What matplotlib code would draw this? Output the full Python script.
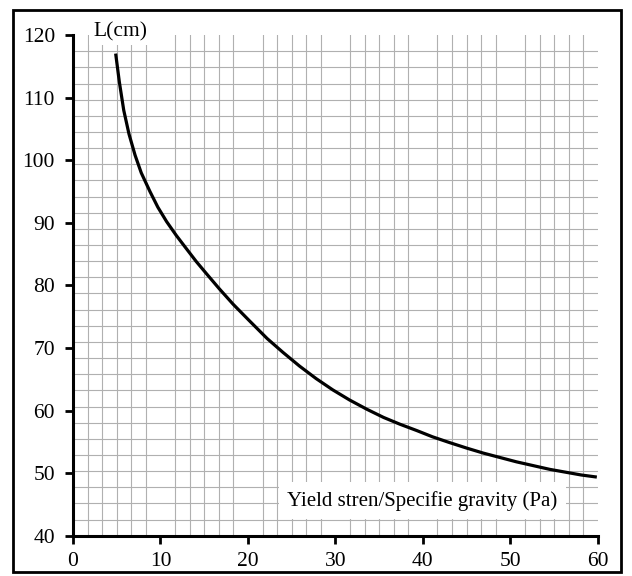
import numpy as np
import matplotlib.pyplot as plt
from matplotlib.patches import Rectangle

#%% values
stress = [4.9, 5.3, 5.8, 6.4, 7.1, 7.8, 8.8, 9.7, 10.7, 11.8, 13.0, 14.1, 15.3,
          16.7, 18.3, 20.2, 22.2, 24.0, 25.9, 27.8, 29.7, 31.6, 33.6, 35.5,
          37.4, 39.3, 41.1, 43.0, 45.0, 46.9, 48.8, 50.7, 52.6, 54.5, 56.5,
          58.1, 59.7]
length = [116.8, 112.5, 108.0, 104.2, 100.8, 98.0, 95.0, 92.5, 90.2, 88.0, 85.8, 83.8, 81.8,
          79.5, 77.0, 74.3, 71.5, 69.3, 67.1, 65.1, 63.3, 61.7, 60.2, 58.9,
          57.8, 56.8, 55.8, 54.9, 54.0, 53.2, 52.5, 51.8, 51.2, 50.6, 50.1,
          49.7, 49.4]

xticks = [0, 10, 20, 30, 40, 50, 60]
yticks = [40, 50, 60, 70, 80, 90, 100, 110, 120]
xlabel = 'Yield stren/Specifie gravity (Pa)'
ylabel = 'L(cm)'

#%% figure
plt.rcParams['font.family'] = 'Liberation Serif'
fig = plt.figure(figsize=(6.32, 5.76), dpi=100)
ax = fig.add_axes([0.1155, 0.070, 0.8305, 0.869])

# graph paper
ax.set_xticks(np.linspace(0, 60, 37), minor=True)
ax.set_yticks(np.linspace(40, 120, 32), minor=True)
ax.grid(which='minor', color='#b0b0b0', lw=0.8)
ax.set_axisbelow(True)

ax.plot(stress, length, color='black', lw=2.3, solid_joinstyle='round')

ax.set_xlim(0, 60)
ax.set_ylim(40, 120)
ax.set_xticks(xticks)
ax.set_yticks(yticks)
ax.set_xticklabels([str(v) for v in xticks])
ax.tick_params(which='major', length=6, width=2, labelsize=15.5, pad=6)
ax.tick_params(axis='y', pad=7)
ax.tick_params(which='minor', length=0)
for s in ['top', 'right']:
    ax.spines[s].set_visible(False)
for s in ['left', 'bottom']:
    ax.spines[s].set_linewidth(2.2)

ax.text(5.4, 120.6, ylabel, fontsize=15.5, ha='center', va='center',
        bbox=dict(facecolor='white', edgecolor='none', pad=3), clip_on=False)
ax.text(24.5, 45.6, xlabel, fontsize=15, ha='left', va='center',
        bbox=dict(facecolor='white', edgecolor='none', pad=6))

# outer frame
fig.patches.append(Rectangle((0.021, 0.007), 0.962, 0.975, transform=fig.transFigure,
                             fill=False, edgecolor='black', lw=2))

plt.savefig('out.png', dpi=100)
